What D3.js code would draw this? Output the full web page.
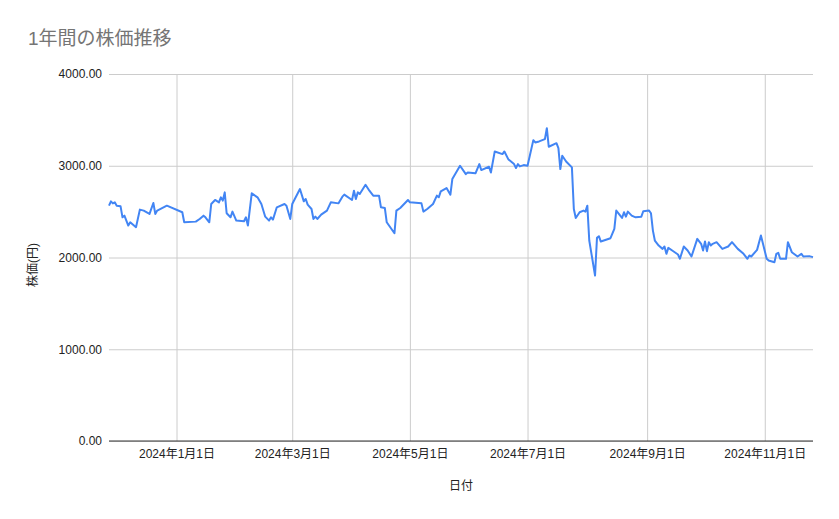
<!DOCTYPE html>
<html>
<head>
<meta charset="utf-8">
<title>1年間の株価推移</title>
<script src="https://d3js.org/d3.v7.min.js"></script>
<style>
body { margin: 0; background: #fff; }
text { font-family: "Liberation Sans", Arial, "Noto Sans CJK JP", sans-serif; }
.line { fill: none; stroke: #4285f4; stroke-width: 2; stroke-linejoin: round; }
.grid line { stroke: #cccccc; }
.axis text { fill: #222; font-size: 12px; }
</style>
</head>
<body>
<script>
// dates (trading days, roughly)
var dates = [
  "2023-11-27","2023-11-28","2023-11-29","2023-11-30","2023-12-01","2023-12-03","2023-12-04","2023-12-05",
  "2023-12-06","2023-12-07","2023-12-08","2023-12-11","2023-12-13","2023-12-15","2023-12-18","2023-12-20",
  "2023-12-21","2023-12-22","2023-12-27","2024-01-04","2024-01-05","2024-01-11","2024-01-13","2024-01-15",
  "2024-01-16","2024-01-18","2024-01-19","2024-01-21","2024-01-23","2024-01-24","2024-01-25","2024-01-26",
  "2024-01-27","2024-01-29","2024-01-30","2024-02-01","2024-02-05","2024-02-06","2024-02-07","2024-02-09",
  "2024-02-12","2024-02-14","2024-02-16","2024-02-18","2024-02-19","2024-02-20","2024-02-22","2024-02-26",
  "2024-02-27","2024-02-29","2024-03-01","2024-03-05","2024-03-07","2024-03-08","2024-03-09","2024-03-11",
  "2024-03-12","2024-03-13","2024-03-14","2024-03-16","2024-03-19","2024-03-21","2024-03-25","2024-03-27",
  "2024-03-28","2024-04-01","2024-04-02","2024-04-03","2024-04-04","2024-04-05","2024-04-08","2024-04-10",
  "2024-04-12","2024-04-15","2024-04-16","2024-04-18","2024-04-19","2024-04-23","2024-04-24","2024-04-26",
  "2024-04-30","2024-05-01","2024-05-07","2024-05-08","2024-05-10","2024-05-13","2024-05-15","2024-05-16",
  "2024-05-17","2024-05-20","2024-05-22","2024-05-23","2024-05-27","2024-05-30","2024-05-31","2024-06-04",
  "2024-06-06","2024-06-07","2024-06-11","2024-06-12","2024-06-14","2024-06-18","2024-06-19","2024-06-21",
  "2024-06-24","2024-06-25","2024-06-26","2024-06-27","2024-06-29","2024-07-01","2024-07-04","2024-07-05",
  "2024-07-07","2024-07-10","2024-07-11","2024-07-12","2024-07-16","2024-07-17","2024-07-18","2024-07-19",
  "2024-07-21","2024-07-24","2024-07-25","2024-07-26","2024-07-28","2024-07-30","2024-07-31","2024-08-01",
  "2024-08-02","2024-08-05","2024-08-06","2024-08-07","2024-08-08","2024-08-13","2024-08-15","2024-08-16",
  "2024-08-19","2024-08-20","2024-08-21","2024-08-22","2024-08-24","2024-08-26","2024-08-29","2024-08-30",
  "2024-09-02","2024-09-03","2024-09-04","2024-09-05","2024-09-07","2024-09-09","2024-09-10","2024-09-11",
  "2024-09-12","2024-09-14","2024-09-17","2024-09-18","2024-09-20","2024-09-22","2024-09-24","2024-09-27",
  "2024-09-29","2024-09-30","2024-10-01","2024-10-02","2024-10-03","2024-10-04","2024-10-05","2024-10-07",
  "2024-10-10","2024-10-13","2024-10-15","2024-10-18","2024-10-21","2024-10-23","2024-10-24","2024-10-25",
  "2024-10-28","2024-10-30","2024-11-02","2024-11-03","2024-11-06","2024-11-07","2024-11-08","2024-11-09",
  "2024-11-12","2024-11-13","2024-11-15","2024-11-18","2024-11-20","2024-11-21","2024-11-24","2024-11-26"
];

// closing price (円)
var prices = [
  2565,2612,2590,2601,2565,2558,2438,2456,
  2402,2348,2384,2330,2522,2511,2475,2594,
  2475,2511,2565,2493,2384,2391,2420,2456,
  2438,2384,2583,2627,2601,2656,2620,2710,
  2482,2438,2500,2402,2395,2438,2348,2699,
  2656,2583,2445,2402,2438,2413,2547,2583,
  2565,2420,2583,2746,2612,2638,2576,2529,
  2420,2445,2420,2467,2511,2601,2590,2663,
  2685,2627,2728,2638,2710,2692,2793,2728,
  2674,2674,2547,2540,2384,2264,2511,2540,
  2627,2601,2590,2500,2529,2583,2674,2656,
  2721,2757,2685,2855,3000,2909,2927,2917,
  3018,2953,2989,2927,3156,3127,3156,3072,
  3018,2975,3018,2993,3007,3000,3279,3254,
  3265,3290,3409,3207,3246,3192,2964,3109,
  3047,2982,2529,2431,2493,2511,2500,2565,
  2185,1804,2214,2232,2174,2210,2312,2511,
  2431,2493,2445,2500,2456,2438,2445,2504,
  2511,2482,2293,2185,2130,2094,2120,2040,
  2105,2076,2033,1986,2120,2076,2011,2203,
  2149,2076,2174,2069,2167,2130,2149,2167,
  2094,2120,2167,2094,2040,1986,2022,2011,
  2083,2239,1986,1967,1949,2040,2051,1986,
  1986,2167,2058,2011,2040,2011,2015,2004
];

var yTicks = [0, 1000, 2000, 3000, 4000];
var xTicks = ["2024-01-01","2024-03-01","2024-05-01","2024-07-01","2024-09-01","2024-11-01"];

var W = 839, H = 519;
var margin = {top: 74, right: 26, bottom: 78, left: 109};
var width = W - margin.left - margin.right,
    height = H - margin.top - margin.bottom;

var parse = d3.timeParse("%Y-%m-%d");
var data = dates.map(function(d, i) { return {date: parse(d), value: prices[i]}; });

var x = d3.scaleTime()
    .domain(d3.extent(data, function(d) { return d.date; }))
    .range([0, width]);

var y = d3.scaleLinear()
    .domain([0, 4000])
    .range([height, 0]);

var svg = d3.select("body").append("svg")
    .attr("width", W)
    .attr("height", H);

svg.append("text")
    .attr("x", 28)
    .attr("y", 45)
    .attr("fill", "#757575")
    .style("font-size", "19px")
    .text("1年間の株価推移");

var g = svg.append("g")
    .attr("transform", "translate(" + margin.left + "," + margin.top + ")");

// y axis + horizontal grid
var yAxis = g.append("g")
    .attr("class", "axis grid")
    .call(d3.axisLeft(y)
      .tickValues(yTicks)
      .tickSize(-width)
      .tickPadding(7)
      .tickFormat(d3.format(".2f")));
yAxis.select(".domain").remove();

// x axis + vertical grid
var fmt = function(d) { return d.getFullYear() + "年" + (d.getMonth() + 1) + "月" + d.getDate() + "日"; };
var xAxis = g.append("g")
    .attr("class", "axis grid")
    .attr("transform", "translate(0," + height + ")")
    .call(d3.axisBottom(x)
      .tickValues(xTicks.map(parse))
      .tickSize(-height)
      .tickPadding(8)
      .tickFormat(fmt));
xAxis.select(".domain").remove();

// baseline at 0
g.append("line")
    .attr("x1", 0).attr("x2", width)
    .attr("y1", y(0)).attr("y2", y(0))
    .attr("stroke", "#333");

var line = d3.line()
    .x(function(d) { return x(d.date); })
    .y(function(d) { return y(d.value); });

g.append("path")
    .datum(data)
    .attr("class", "line")
    .attr("d", line);

// axis titles
svg.append("text")
    .attr("x", margin.left + width / 2)
    .attr("y", 490)
    .attr("text-anchor", "middle")
    .attr("fill", "#222")
    .style("font-size", "12px")
    .text("日付");

svg.append("text")
    .attr("transform", "translate(37,265) rotate(-90)")
    .attr("text-anchor", "middle")
    .attr("fill", "#222")
    .style("font-size", "12px")
    .text("株価(円)");
</script>
</body>
</html>
